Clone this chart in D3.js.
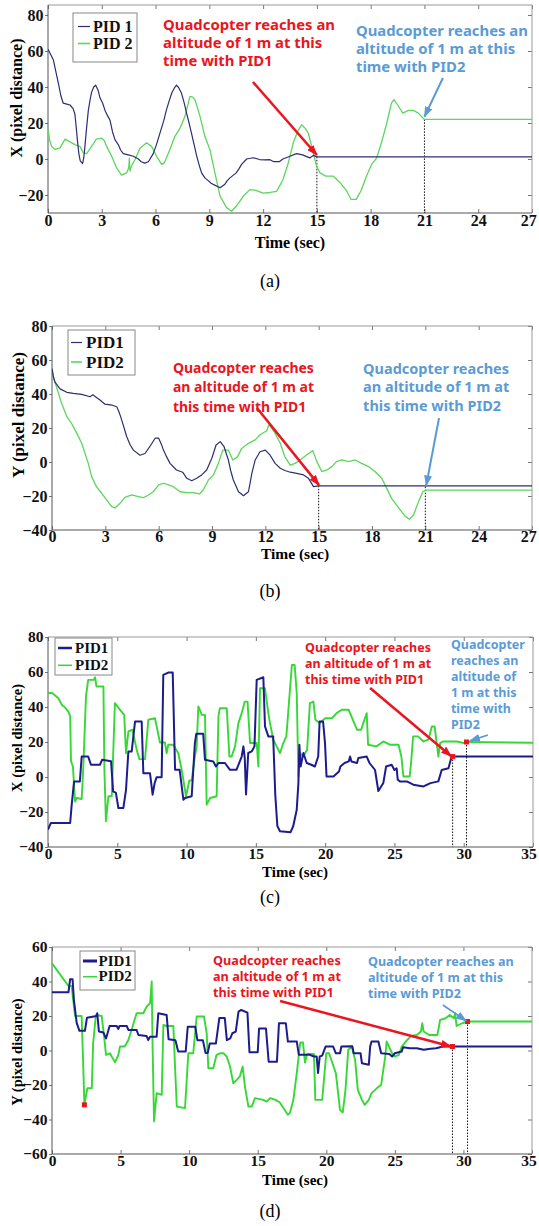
<!DOCTYPE html>
<html><head><meta charset="utf-8">
<script src="https://cdn.jsdelivr.net/npm/d3@7"></script>
<style>html,body{margin:0;padding:0;background:#fff;}svg{display:block;}</style>
</head><body>
<svg id="c" width="539" height="1226"></svg>
<script>
// ---------- DATA ----------
const xTicks27 = [0,3,6,9,12,15,18,21,24,27];
const xTicks35 = [0,5,10,15,20,25,30,35];
const yTicksA = [-20,0,20,40,60,80];
const yTicksB = [-40,-20,0,20,40,60,80];
const yTicksD = [-60,-40,-20,0,20,40,60];
const seriesNames = ["PID1","PID2"];

const a_pid1 = [[0,61],[0.15,58],[0.3,55],[0.45,48],[0.58,42],[0.72,35],[0.85,31],[1.05,30.5],[1.23,30],[1.4,28],[1.5,25],[1.57,18],[1.64,10.5],[1.72,3],[1.8,-1],[1.93,-2.5],[2.0,1],[2.06,7],[2.15,17],[2.25,27],[2.35,33],[2.43,37],[2.55,40],[2.66,41],[2.8,38],[2.9,34],[3.05,31],[3.18,27],[3.3,24.5],[3.46,21.5],[3.6,15],[3.74,10.6],[3.92,8],[4.05,5],[4.2,3],[4.48,2.3],[4.76,1.5],[5.04,0],[5.2,-1.5],[5.4,-2.3],[5.6,-1.5],[5.87,3],[6.05,8],[6.25,14.5],[6.45,21],[6.6,27],[6.75,32],[6.9,36.5],[7.05,39.5],[7.17,41],[7.3,39.5],[7.45,36.5],[7.6,31],[7.73,25.5],[7.87,20],[8.0,14.5],[8.15,8],[8.3,1.5],[8.45,-4],[8.57,-7.7],[8.75,-10.5],[8.94,-12],[9.1,-13.5],[9.3,-14.5],[9.6,-16],[9.87,-14],[10.0,-12],[10.15,-10.5],[10.5,-7.7],[10.65,-5.5],[10.8,-3],[11.08,0],[11.45,0.7],[11.8,-0.3],[12.1,-0.5],[12.38,-0.4],[12.6,-1.5],[12.9,-1.5],[13.1,0],[13.5,1.5],[13.86,3],[14.2,2.3],[14.6,0.6],[14.8,2],[15,1.2],[27,1.2]];
const a_pid2 = [[0,16.3],[0.1,10],[0.2,7],[0.4,5.3],[0.67,6.2],[0.95,11],[1.23,9.5],[1.5,8],[1.78,7],[1.97,3.4],[2.16,3],[2.43,7],[2.7,11],[3.0,11.6],[3.15,10],[3.27,7],[3.55,1.5],[3.83,-5],[4.1,-9],[4.39,-7.6],[4.5,-5],[4.54,0.5],[4.57,-6.7],[4.7,-3],[4.85,-0.4],[5.13,6],[5.5,9],[5.78,7],[6.06,1.5],[6.34,-3],[6.5,-2],[6.8,5.3],[7.08,12.6],[7.36,17],[7.64,23.7],[7.92,34.8],[8.05,34.5],[8.2,33],[8.48,23.7],[8.75,12.6],[9.03,5.3],[9.31,-7.7],[9.6,-20.6],[9.96,-27],[10.24,-29],[10.52,-26],[10.9,-20.6],[11.26,-17],[11.6,-17.4],[12.0,-19],[12.38,-18.6],[12.75,-18],[13.1,-11.7],[13.4,-2.4],[13.68,9],[13.96,16],[14.15,19],[14.35,17],[14.52,14.3],[14.76,5],[14.98,-4],[15.17,-7.7],[15.5,-9.5],[15.9,-9.5],[16.28,-13],[16.65,-17.6],[16.9,-22.4],[17.2,-22.4],[17.49,-17],[17.77,-9.5],[18.05,-3],[18.33,0.5],[18.6,9],[18.9,20],[19.16,31],[19.3,33],[19.5,30],[19.8,25.5],[20.1,27],[20.38,27],[20.66,25.5],[20.93,22.6],[21,22],[27,22]];

const b_pid1 = [[0,55],[0.08,50],[0.17,47],[0.45,43],[0.83,41],[1.2,40.4],[1.67,39.8],[2.14,38.4],[2.3,39.5],[2.5,38],[2.7,36.5],[2.98,34],[3.36,33.5],[3.64,32.5],[3.75,30],[3.86,26.7],[4.0,22],[4.2,15],[4.4,10],[4.58,7],[4.95,4],[5.23,5],[5.5,9],[5.8,14],[6.0,14],[6.15,10.5],[6.27,7],[6.45,3],[6.64,-0.8],[7.0,-4.7],[7.35,-6],[7.58,-9.6],[7.86,-11],[8.14,-9.6],[8.42,-7.6],[8.7,-4.7],[8.99,2.2],[9.23,10],[9.46,12],[9.68,9],[9.92,1.2],[10.05,-5],[10.2,-10.6],[10.49,-17.5],[10.77,-19.8],[11.05,-17.5],[11.15,-12],[11.24,-6.7],[11.43,1.2],[11.7,6],[12.0,7],[12.27,4],[12.55,-0.8],[12.84,-3.7],[13.1,-5],[13.4,-6],[13.77,-6.7],[14.15,-7.6],[14.43,-9.6],[14.71,-14.5],[15.0,-14],[27,-14]];
const b_pid2 = [[0,55],[0.1,49],[0.26,44],[0.54,34.5],[0.83,26.7],[1.1,22.7],[1.39,17],[1.67,11],[1.86,5],[2.04,-0.8],[2.23,-8.6],[2.5,-14.5],[2.8,-18.4],[3.08,-22.4],[3.36,-26.3],[3.55,-27],[3.83,-24.3],[4.1,-20.8],[4.48,-19.4],[4.86,-20.4],[5.14,-21],[5.42,-19.4],[5.7,-17.5],[6.0,-13.5],[6.27,-12.5],[6.55,-13.5],[6.83,-14.5],[7.2,-17.5],[7.58,-18],[7.95,-18],[8.3,-18.8],[8.5,-16.5],[8.8,-10.6],[9.08,-7.6],[9.36,-0.8],[9.6,7],[9.92,7],[10.17,1.2],[10.43,3],[10.67,8],[11.05,11],[11.43,13],[11.7,16],[12.08,18.4],[12.2,22],[12.55,17],[12.84,11],[13.1,3],[13.4,-1.8],[13.68,-0.8],[13.96,1.2],[14.3,4],[14.67,6.7],[14.9,0.2],[15.18,-5.7],[15.46,-4.7],[15.74,-2.7],[16.0,0.2],[16.3,1.2],[16.67,0.2],[17.05,1.2],[17.42,-0.8],[17.8,-2.7],[18.18,-5.7],[18.55,-9.6],[18.83,-15.5],[19.1,-21.4],[19.5,-27],[19.87,-32],[20.11,-33.7],[20.34,-31],[20.62,-23.3],[20.86,-17.5],[21.05,-16.5],[27,-16.5]];

const c_pid1 = [[0,-30],[0.2,-26.3],[1.6,-26.3],[1.7,-16.8],[1.88,-2.5],[2.3,-2.5],[2.43,11.7],[2.9,11.7],[3.1,7],[3.75,7],[3.9,9.8],[4.55,9],[4.7,-8.2],[4.9,-9.1],[5.08,-17.7],[5.44,-17.7],[5.63,-7.3],[5.8,14.6],[6.04,14.6],[6.28,31.7],[6.76,31.7],[6.88,2.2],[7.36,2.2],[7.55,-10.1],[7.7,-3.4],[7.84,-0.1],[8.2,-0.1],[8.32,58.3],[8.68,59.7],[9.0,59.7],[9.17,4.1],[9.5,4.1],[9.77,-13],[9.9,-12],[10.37,-11],[10.6,19.4],[10.7,24.7],[11.2,24.7],[11.33,9.8],[11.93,8.9],[12.12,6],[12.3,8],[12.77,8],[13.13,4.1],[13.6,4.1],[13.98,11.7],[14.1,17.5],[14.2,10.8],[14.29,-10],[14.45,13.7],[14.7,14.6],[14.9,17.5],[15.06,55.5],[15.54,57],[15.66,28.9],[15.9,23.2],[16.25,23.2],[16.4,-10],[16.55,-28],[16.74,-31],[17.5,-31.6],[17.7,-28],[17.95,-18.7],[18.07,-3.5],[18.14,18.4],[18.23,6],[18.43,13.7],[18.67,8],[19.0,7],[19.26,6],[19.5,11.7],[19.6,31.7],[19.85,31.7],[19.99,19.4],[20.1,0.3],[20.6,0.3],[21.0,3.2],[21.1,6],[21.4,8],[21.7,8.9],[21.8,11.7],[21.9,8.9],[22.3,8],[22.4,10.8],[23.0,11.7],[23.2,8],[23.6,4],[23.84,-8],[24.2,-3.4],[24.4,6],[24.8,7],[25.0,4],[25.16,5],[25.24,-1.6],[25.4,-2.5],[25.9,-2.5],[26.36,-4.4],[27.1,-5.4],[27.6,-3.5],[28.17,-2.5],[28.41,4],[28.9,5],[29.13,11.7],[35,11.7]];
const c_pid2 = [[0,48],[0.3,48],[0.75,45],[1.0,41.2],[1.2,40],[1.47,37.4],[1.6,34.6],[1.66,9],[1.8,6],[1.95,-14],[2.07,-12],[2.43,-12.6],[2.55,6],[2.74,46],[2.9,55.5],[3.3,55.5],[3.4,57],[3.5,51.7],[4.0,51.7],[4.07,4.1],[4.18,-25.3],[4.36,-11],[4.6,-11],[4.83,42.2],[5.2,38.4],[5.5,35.5],[5.63,13.6],[5.8,26],[6.1,27],[6.4,15.5],[6.6,10.2],[7.0,10.2],[7.24,32.7],[7.72,33.6],[8.08,19.7],[8.44,19.7],[8.56,13.6],[8.68,18.4],[9.04,18.4],[9.4,13.6],[9.65,4.1],[9.96,-11],[10.2,-2],[10.37,-2],[10.6,11.7],[10.73,17.5],[10.85,40.3],[11.1,35.5],[11.33,35.5],[11.45,-15.8],[11.7,-12],[12.17,-11],[12.3,34.6],[12.4,39.3],[12.9,39.3],[13.09,11.7],[13.25,11.7],[13.5,17.5],[13.74,30.8],[13.98,36.5],[14.2,43.1],[14.4,43.1],[14.58,19.4],[15.06,19.4],[15.18,6],[15.3,50.7],[15.66,50.7],[15.9,36.5],[16.02,30.8],[16.26,21.3],[16.5,17.5],[16.74,13.6],[16.98,19.4],[17.2,23.2],[17.6,64],[17.8,64],[17.95,48],[18.07,0.3],[18.2,13.6],[18.4,11.7],[18.7,15.5],[18.9,42.2],[19.15,43.1],[19.3,32.7],[19.6,30.8],[20.0,33.6],[20.5,33.6],[20.83,36.5],[21.2,38.4],[21.7,38.4],[22.0,32.7],[22.3,27],[22.6,27],[22.75,30.8],[23.0,36.5],[23.1,18.4],[23.7,17.5],[24.2,20.3],[24.7,18.4],[25.3,18.4],[25.5,11.7],[25.65,0.3],[26.1,0.3],[26.2,8],[26.35,23.2],[26.7,23.2],[27.1,20.3],[27.45,21.3],[27.7,28.9],[27.9,28.9],[28.17,11.7],[28.3,19.4],[28.5,20.3],[29.0,20.3],[29.5,20.3],[30.0,19.4],[30.2,20],[35,19.6]];

const d_pid1 = [[0,33.7],[1.2,33.7],[1.32,41.3],[1.5,41.3],[1.6,29],[1.8,16],[2.0,11.4],[2.4,11.4],[2.55,19],[3.25,20],[3.3,21.6],[3.42,11],[3.75,10.4],[3.94,7],[4.05,10],[4.2,14.2],[4.72,14.2],[4.84,12.5],[4.92,14.2],[5.45,14.2],[5.57,11.9],[6.17,11.9],[6.3,9],[6.9,8.4],[7.02,6],[7.15,8],[7.63,8],[7.75,21.6],[8.36,20.6],[8.5,6.5],[9.0,6],[9.2,-0.6],[9.75,-0.6],[9.9,13.8],[10.45,13.8],[10.6,6],[11.0,6],[11.2,-1.5],[11.35,-1.5],[11.5,4],[11.95,4],[12.2,18.8],[12.6,18.8],[12.75,6],[13.0,7],[13.15,10],[13.4,11],[13.6,22.5],[13.8,23.5],[14.25,22],[14.4,-1],[15.0,-1],[15.1,12.8],[15.6,12.8],[15.8,-6.5],[16.4,-6.5],[16.55,15.8],[17.05,15.8],[17.2,5.2],[17.85,5.2],[18.0,-2.5],[18.8,-2.5],[19.1,-3.5],[19.3,-3.5],[19.4,-13],[19.52,-3.5],[19.7,-3],[19.95,2.3],[20.5,2.3],[20.7,-1.6],[21.0,-1.6],[21.1,2.3],[21.9,2.5],[22.0,-1.6],[22.5,-1.6],[22.6,-7.4],[23.1,-8.3],[23.2,2.3],[23.3,5.2],[23.8,5.2],[24.0,-1.6],[24.6,-2],[24.8,-3.5],[25.0,-1.6],[25.5,-0.6],[25.6,1.9],[26.1,1.3],[26.6,1.3],[27.1,0.4],[27.6,1],[28.0,1.3],[28.3,1.9],[28.5,2.3],[29.2,2.3],[35,2.3]];
const d_pid2 = [[0,50.5],[1.2,37.4],[1.43,37.4],[1.55,29],[1.68,20],[2.16,20],[2.28,-9.3],[2.36,-31.5],[2.58,-21.8],[2.9,-21.8],[3.0,4.2],[3.2,20.6],[3.62,20],[3.8,8],[3.94,-2.5],[4.23,-1.6],[4.35,-3.5],[4.6,-6.8],[4.84,-2.5],[4.96,2.3],[5.3,2.3],[5.57,6.1],[5.8,11.9],[6.17,21.6],[6.66,21.6],[6.9,25.4],[7.15,27.4],[7.27,40],[7.34,0.3],[7.44,-41],[7.63,-24.7],[8.0,-25.7],[8.12,14.8],[8.36,14.2],[8.85,14.2],[8.97,-9.3],[9.1,-32.5],[9.7,-33.4],[9.94,-1.6],[10.3,-1.6],[10.55,19.7],[11.08,19.7],[11.28,10],[11.4,-10.3],[11.76,-10.3],[12.0,-2.5],[12.25,-1.6],[12.5,-1.6],[12.74,-3.5],[12.98,-9.3],[13.22,-19],[13.47,-17],[13.7,-15],[13.9,-9.3],[14.07,-20.9],[14.32,-32.5],[14.56,-32.5],[14.8,-27.6],[15.4,-28.6],[15.65,-29.6],[15.9,-27.6],[16.3,-28.6],[16.6,-30],[17.2,-37.3],[17.36,-36],[17.6,-28.6],[17.85,-13],[18.1,4.6],[18.3,4.6],[18.45,-7],[18.6,-2],[19.1,-2],[19.2,-28.6],[19.7,-28.6],[20.0,-1.6],[20.2,-1.6],[20.7,-13.2],[21.0,-34.4],[21.2,-36],[21.4,-22.8],[21.6,0.3],[21.85,2.3],[22.1,-5.4],[22.3,-22.8],[22.6,-28.6],[22.8,-31.5],[23.1,-28.6],[23.3,-24.7],[23.7,-21.8],[24.0,-19.9],[24.3,-3.5],[24.4,5.2],[24.8,-1.6],[25.0,-3.5],[25.3,-2.5],[25.5,2.3],[25.9,6.1],[26.2,8.5],[26.6,9],[26.9,11],[27.0,15.8],[27.1,11],[27.5,9],[28.1,9],[28.3,17.7],[28.7,18.7],[29.0,20.6],[29.3,18.7],[29.4,21.6],[29.5,14.2],[29.9,15.8],[30.3,16.8],[35,16.8]];

// reach times / values (data)
const reachA = [[15,1.2],[21,22]];
const reachB = [[15,-14],[21,-14.5]];
const reachC = [[29.2,11.7],[30.2,20]];
const reachD = [[29.2,2.3],[30.3,16.8]];
const strayD = [[2.36,-31.5]];

// ---------- DRAWING ----------
const SERIF = "'Liberation Serif','Times New Roman',serif";
const SANS = "'Noto Sans','Open Sans',sans-serif";
const RED = "#ea1520", BLUE = "#5b9bd5";
const svg = d3.select("#c");
const defs = svg.append("defs");
[["arrR",RED],["arrB",BLUE]].forEach(([id,c])=>{
  defs.append("marker").attr("id",id).attr("markerUnits","userSpaceOnUse")
    .attr("markerWidth",11).attr("markerHeight",8).attr("refX",10).attr("refY",4)
    .attr("orient","auto").append("path").attr("d","M0,0L11,4L0,8Z").attr("fill",c);
});

function panel(cfg){
  const g = svg.append("g");
  const x = d3.scaleLinear().domain(cfg.xd).range([cfg.l,cfg.r]);
  const y = d3.scaleLinear().domain(cfg.yd).range([cfg.b,cfg.t]);
  const cid = "clip"+cfg.id;
  defs.append("clipPath").attr("id",cid).append("rect")
    .attr("x",cfg.l).attr("y",cfg.t).attr("width",cfg.r-cfg.l).attr("height",cfg.b-cfg.t);

  // axes
  const fs = cfg.fs;
  const bottom = g.append("g").attr("transform",`translate(0,${cfg.b})`)
    .call(d3.axisBottom(x).tickValues(cfg.xt).tickSizeInner(-4).tickSizeOuter(0).tickPadding(cfg.xpad));
  const left = g.append("g").attr("transform",`translate(${cfg.l},0)`)
    .call(d3.axisLeft(y).tickValues(cfg.yt).tickSizeInner(3).tickSizeOuter(0).tickPadding(1.5));
  const top = g.append("g").attr("transform",`translate(0,${cfg.t})`)
    .call(d3.axisTop(x).tickValues(cfg.xt).tickSizeInner(-4).tickSizeOuter(0).tickFormat(""));
  const right = g.append("g").attr("transform",`translate(${cfg.r},0)`)
    .call(d3.axisRight(y).tickValues(cfg.yt).tickSizeInner(-4).tickSizeOuter(0).tickFormat(""));
  [bottom,left,top,right].forEach(a=>{
    a.select(".domain").remove();
    a.selectAll("line").attr("stroke","#777");
    a.selectAll("text").attr("font-family",SERIF).attr("font-weight","bold")
      .attr("font-size",fs).attr("fill","#111");
  });
  // keep the last x label inside the page
  bottom.selectAll("text").filter(d=>x(d)+fs*0.55>536).attr("dx",-(x(cfg.xd[1])+fs*0.55-537));
  // frame
  g.append("line").attr("x1",cfg.l).attr("x2",cfg.r).attr("y1",cfg.t).attr("y2",cfg.t).attr("stroke","#999");
  g.append("line").attr("x1",cfg.r).attr("x2",cfg.r).attr("y1",cfg.t).attr("y2",cfg.b).attr("stroke","#999");
  g.append("line").attr("x1",cfg.l).attr("x2",cfg.r).attr("y1",cfg.b).attr("y2",cfg.b).attr("stroke","#555");
  g.append("line").attr("x1",cfg.l).attr("x2",cfg.l).attr("y1",cfg.t).attr("y2",cfg.b).attr("stroke","#555");

  // titles
  g.append("text").attr("x",cfg.xtx).attr("y",cfg.xty).attr("text-anchor","middle")
    .attr("font-family",SERIF).attr("font-weight","bold").attr("font-size",cfg.tfs).text("Time (sec)");
  g.append("text").attr("transform",`translate(${cfg.ytx},${cfg.yty}) rotate(-90)`).attr("text-anchor","middle")
    .attr("font-family",SERIF).attr("font-weight","bold").attr("font-size",cfg.yfs).text(cfg.ytitle);
  g.append("text").attr("x",270).attr("y",cfg.cap).attr("text-anchor","middle")
    .attr("font-family",SERIF).attr("font-size",18).text(cfg.caption);

  // dotted reach lines
  cfg.reach.forEach(p=>{
    g.append("line").attr("x1",x(p[0])).attr("x2",x(p[0])).attr("y1",y(p[1])).attr("y2",cfg.b)
      .attr("stroke","#111").attr("stroke-width",1).attr("stroke-dasharray","1.5,1.5");
  });

  // series
  const line = d3.line().x(d=>x(d[0])).y(d=>y(d[1]));
  const lg = g.append("g").attr("clip-path",`url(#${cid})`);
  lg.append("path").datum(cfg.s2).attr("d",line).attr("fill","none").attr("stroke",cfg.c2).attr("stroke-width",cfg.w2).attr("stroke-linejoin","round");
  lg.append("path").datum(cfg.s1).attr("d",line).attr("fill","none").attr("stroke",cfg.c1).attr("stroke-width",cfg.w1).attr("stroke-linejoin","round");

  // red dots
  (cfg.dots||[]).forEach(p=>{
    g.append("rect").attr("x",x(p[0])-2.5).attr("y",y(p[1])-2.5).attr("width",5).attr("height",5).attr("fill",RED);
  });

  // legend
  const L = cfg.leg;
  g.append("rect").attr("x",L.x).attr("y",L.y).attr("width",L.w).attr("height",L.h)
    .attr("fill","#fff").attr("stroke","#888").attr("stroke-width",1);
  [[cfg.c1,cfg.lw1],[cfg.c2,cfg.lw2]].forEach(([c,w],i)=>{
    const yy = L.y + L.l0 + i*L.dy;
    g.append("line").attr("x1",L.x+L.lx0).attr("x2",L.x+L.lx1).attr("y1",yy).attr("y2",yy)
      .attr("stroke",c).attr("stroke-width",w);
    g.append("text").attr("x",L.x+L.tx).attr("y",yy+L.tdy).attr("font-family",SERIF).attr("font-weight","bold")
      .attr("font-size",L.fs).attr("fill","#111").text(L.labels[i]);
  });

  // annotations
  cfg.ann.forEach(a=>{
    const t = g.append("text").attr("fill",a.color).attr("font-family",SANS).attr("font-weight",700).attr("font-size",14);
    a.lines.forEach((s,i)=>t.append("tspan").attr("x",x(a.at[0])).attr("y",y(a.at[1])+i*a.dy).text(s));
    const w = t.select("tspan").node().getComputedTextLength();
    t.attr("font-size",14*a.w/w);
    g.append("line").attr("x1",x(a.from[0])).attr("y1",y(a.from[1])).attr("x2",x(a.to[0])).attr("y2",y(a.to[1]))
      .attr("stroke",a.color).attr("stroke-width",a.sw).attr("marker-end",`url(#${a.marker})`);
  });
}

const ann1 = ["Quadcopter reaches an","altitude of 1 m at this","time with PID1"];
const ann2 = ["Quadcopter reaches an","altitude of 1 m at this","time with PID2"];
const ann3 = ["Quadcopter reaches","an altitude of 1 m at","this time with PID1"];
const ann4 = ["Quadcopter reaches","an altitude of 1 m at","this time with PID2"];
const ann5 = ["Quadcopter","reaches an","altitude of","1 m at this","time with","PID2"];

panel({id:"a", l:48,r:532,t:5,b:213, xd:[0,27], yd:[-30,85.55], xt:xTicks27, yt:yTicksA, fs:16, xpad:1.5,
  xtx:290, xty:248, tfs:16, ytx:22, yty:98, yfs:16, ytitle:"X (pixel distance)", cap:287, caption:"(a)",
  s1:a_pid1, s2:a_pid2, c1:"#2e2e72", c2:"#5cd65c", w1:1.2, w2:1.3, lw1:1.2, lw2:1.6,
  reach:reachA,
  leg:{x:73,y:13,w:64,h:49, l0:13.5, dy:17, lx0:5, lx1:17, tx:20, tdy:5.5, fs:16, labels:["PID 1","PID 2"]},
  ann:[{color:RED, lines:ann1, at:[6.42,71.9], dy:18.3, w:172, from:[11.43,42.8], to:[15,2.2], sw:2.5, marker:"arrR"},
       {color:BLUE, lines:ann2, at:[17.18,68.5], dy:18.3, w:172, from:[22.03,45], to:[21.0,23.5], sw:2, marker:"arrB"}]
});

panel({id:"b", l:52,r:532,t:326,b:530, xd:[0,27], yd:[-40,80], xt:xTicks27, yt:yTicksB, fs:16, xpad:1,
  xtx:295, xty:559, tfs:15.5, ytx:24, yty:415, yfs:17, ytitle:"Y (pixel distance)", cap:597, caption:"(b)",
  s1:b_pid1, s2:b_pid2, c1:"#2e2e72", c2:"#5cd65c", w1:1.2, w2:1.3, lw1:1.2, lw2:1.6,
  reach:reachB,
  leg:{x:68,y:330,w:67,h:45, l0:12.5, dy:19.5, lx0:3, lx1:14, tx:18, tdy:5.5, fs:17, labels:["PID1","PID2"]},
  ann:[{color:RED, lines:ann3, at:[6.8,52.2], dy:19.2, w:141, from:[11.53,31.8], to:[15.02,-13.6], sw:2.5, marker:"arrR"},
       {color:BLUE, lines:ann4, at:[17.5,51.6], dy:18.2, w:146, from:[21.77,25.9], to:[21.05,-13.8], sw:2, marker:"arrB"}]
});

panel({id:"c", l:48,r:533,t:637,b:847, xd:[0,35], yd:[-40,80], xt:xTicks35, yt:yTicksB, fs:15.5, xpad:1,
  xtx:295, xty:877, tfs:15, ytx:22, yty:738, yfs:14.5, ytitle:"X (pixel distance)", cap:903, caption:"(c)",
  s1:c_pid1, s2:c_pid2, c1:"#1c1c8c", c2:"#35d835", w1:2, w2:1.9, lw1:2.5, lw2:1.5,
  reach:reachC, dots:reachC,
  leg:{x:55,y:638,w:57,h:37, l0:10, dy:17.3, lx0:3, lx1:17, tx:20, tdy:5, fs:15, labels:["PID1","PID2"]},
  ann:[{color:RED, lines:ann3, at:[18.55,71.3], dy:16, w:126, from:[23.24,50.9], to:[29.1,11.9], sw:2.5, marker:"arrR"},
       {color:BLUE, lines:ann5, at:[29.08,73.1], dy:16, w:74, from:[31.75,24], to:[30.45,20.6], sw:1.8, marker:"arrB"}]
});

panel({id:"d", l:52,r:532,t:947,b:1154, xd:[0,35], yd:[-60,60], xt:xTicks35, yt:yTicksD, fs:15.5, xpad:1,
  xtx:295, xty:1185, tfs:15, ytx:22, yty:1052, yfs:14.5, ytitle:"Y (pixel distance)", cap:1217, caption:"(d)",
  s1:d_pid1, s2:d_pid2, c1:"#1c1c8c", c2:"#35d835", w1:2, w2:1.9, lw1:3, lw2:1.5,
  reach:reachD, dots:reachD.concat(strayD),
  leg:{x:80,y:951,w:55,h:39, l0:10, dy:15.7, lx0:3, lx1:17, tx:18.5, tdy:4.5, fs:15, labels:["PID1","PID2"]},
  ann:[{color:RED, lines:ann3, at:[11.74,49.6], dy:16, w:128, from:[16.63,28.7], to:[29.1,2.3], sw:2.5, marker:"arrR"},
       {color:BLUE, lines:ann2, at:[23.04,49.2], dy:16, w:146, from:[28.5,26.4], to:[30.2,17.2], sw:1.8, marker:"arrB"}]
});
</script>
</body></html>
